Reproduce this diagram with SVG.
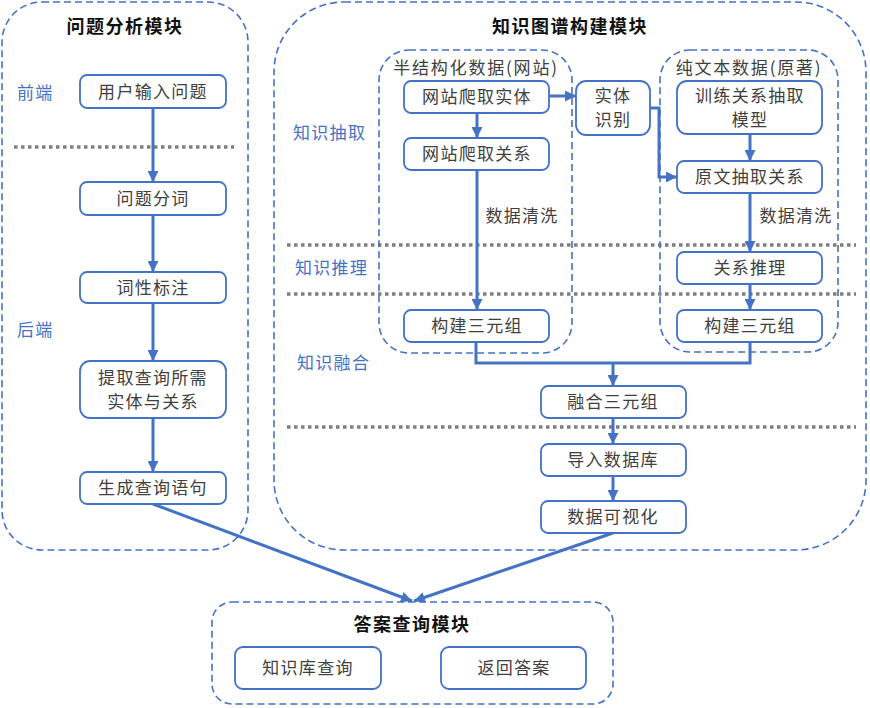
<svg xmlns="http://www.w3.org/2000/svg" width="870" height="708" viewBox="0 0 870 708">
<defs>
<marker id="ah" viewBox="0 0 10 10" refX="10" refY="5" markerWidth="11" markerHeight="11" markerUnits="userSpaceOnUse" orient="auto">
<path d="M0,0 L10,5 L0,10 z" fill="#4472C4"/>
</marker>
</defs>
<style>
.mod{fill:none;stroke:#4472C4;stroke-width:1.6;stroke-dasharray:7 4}
.sep{fill:none;stroke:#7F7F7F;stroke-width:3.5;stroke-dasharray:3.5 3.5}
.box{fill:#fff;stroke:#4472C4;stroke-width:1.8}
.t{font-family:"Noto Sans CJK SC","Noto Sans",sans-serif;font-size:17px;fill:#404040;text-anchor:middle;letter-spacing:1.3px}
.ttl{font-family:"Noto Sans CJK SC","Noto Sans",sans-serif;font-size:18px;font-weight:bold;fill:#111;text-anchor:middle;letter-spacing:1.5px}
.lb{font-family:"Noto Sans CJK SC","Noto Sans",sans-serif;font-size:17px;fill:#4472C4;letter-spacing:1.3px}
.ln{fill:none;stroke:#4472C4;stroke-width:3}
.ar{fill:none;stroke:#4472C4;stroke-width:3;marker-end:url(#ah)}
</style>
<rect width="870" height="708" fill="#fff"/>

<g id="module-question">
<rect class="mod" x="2" y="2" width="246" height="548" rx="40"/>
<text class="ttl" x="125" y="33">问题分析模块</text>
<text class="lb" x="17" y="99">前端</text>
<text class="lb" x="17" y="336">后端</text>
<line class="sep" x1="14" y1="147" x2="234" y2="147"/>
</g>

<g id="module-kg">
<rect class="mod" x="274" y="2" width="592" height="548" rx="70"/>
<text class="ttl" x="570" y="33">知识图谱构建模块</text>
<text class="lb" x="293" y="139">知识抽取</text>
<text class="lb" x="295" y="274">知识推理</text>
<text class="lb" x="297" y="369">知识融合</text>
<line class="sep" x1="287" y1="245" x2="856" y2="245"/>
<line class="sep" x1="287" y1="294" x2="856" y2="294"/>
<line class="sep" x1="287" y1="427" x2="856" y2="427"/>
</g>

<g id="group-semi">
<rect class="mod" x="379" y="50" width="193" height="303" rx="30"/>
<text class="t" x="476" y="74" style="letter-spacing:1.8px">半结构化数据(网站)</text>
</g>
<g id="group-text">
<rect class="mod" x="660" y="50" width="178" height="302" rx="30"/>
<text class="t" x="749" y="74" style="letter-spacing:1.8px">纯文本数据(原著)</text>
</g>

<g id="module-answer">
<rect class="mod" x="212" y="602" width="401" height="102" rx="20"/>
<text class="ttl" x="412" y="631">答案查询模块</text>
</g>

<g id="connectors">
<line class="ar" x1="153" y1="108" x2="153" y2="182"/>
<line class="ar" x1="153" y1="215" x2="153" y2="272"/>
<line class="ar" x1="153" y1="303" x2="153" y2="361"/>
<line class="ar" x1="153" y1="418" x2="153" y2="472"/>
<line class="ar" x1="477" y1="113" x2="477" y2="138"/>
<line class="ar" x1="477" y1="170" x2="477" y2="310"/>
<line class="ar" x1="549" y1="96" x2="576" y2="96"/>
<polyline class="ar" points="650,108 659,108 659,177 677,177"/>
<line class="ar" x1="750" y1="134" x2="750" y2="161"/>
<line class="ar" x1="750" y1="193" x2="750" y2="252"/>
<line class="ar" x1="750" y1="284" x2="750" y2="310"/>
<polyline class="ln" points="476,342 476,363 750,363 750,342"/>
<line class="ar" x1="613" y1="363" x2="613" y2="386"/>
<line class="ar" x1="613" y1="418" x2="613" y2="444"/>
<line class="ar" x1="613" y1="476" x2="613" y2="501"/>
<line class="ar" x1="153" y1="504" x2="412" y2="601"/>
<line class="ar" x1="613" y1="533" x2="414" y2="601"/>
<text class="t" x="522" y="222">数据清洗</text>
<text class="t" x="796" y="222">数据清洗</text>
</g>

<g id="n-input"><rect class="box" x="80" y="75" width="146" height="33" rx="7"/><text class="t" x="153" y="98">用户输入问题</text></g>
<g id="n-seg"><rect class="box" x="80" y="182" width="146" height="33" rx="7"/><text class="t" x="153" y="205">问题分词</text></g>
<g id="n-pos"><rect class="box" x="80" y="272" width="146" height="31" rx="7"/><text class="t" x="153" y="294">词性标注</text></g>
<g id="n-extract"><rect class="box" x="80" y="361" width="146" height="57" rx="10"/><text class="t" x="153" y="384">提取查询所需</text><text class="t" x="153" y="408">实体与关系</text></g>
<g id="n-gen"><rect class="box" x="80" y="472" width="146" height="32" rx="7"/><text class="t" x="153" y="494">生成查询语句</text></g>

<g id="n-crawl-ent"><rect class="box" x="404" y="81" width="145" height="32" rx="7"/><text class="t" x="477" y="103">网站爬取实体</text></g>
<g id="n-crawl-rel"><rect class="box" x="404" y="138" width="145" height="32" rx="7"/><text class="t" x="477" y="160">网站爬取关系</text></g>
<g id="n-triple-l"><rect class="box" x="404" y="310" width="145" height="32" rx="7"/><text class="t" x="477" y="332">构建三元组</text></g>
<g id="n-ner"><rect class="box" x="576" y="81" width="74" height="54" rx="10"/><text class="t" x="613" y="102">实体</text><text class="t" x="613" y="126">识别</text></g>
<g id="n-train"><rect class="box" x="677" y="81" width="145" height="53" rx="10"/><text class="t" x="750" y="102">训练关系抽取</text><text class="t" x="750" y="126">模型</text></g>
<g id="n-text-rel"><rect class="box" x="677" y="161" width="145" height="32" rx="7"/><text class="t" x="750" y="183">原文抽取关系</text></g>
<g id="n-infer"><rect class="box" x="677" y="252" width="145" height="32" rx="7"/><text class="t" x="750" y="274">关系推理</text></g>
<g id="n-triple-r"><rect class="box" x="677" y="310" width="145" height="32" rx="7"/><text class="t" x="750" y="332">构建三元组</text></g>
<g id="n-fuse"><rect class="box" x="541" y="386" width="145" height="32" rx="7"/><text class="t" x="613" y="408">融合三元组</text></g>
<g id="n-db"><rect class="box" x="541" y="444" width="145" height="32" rx="7"/><text class="t" x="613" y="466">导入数据库</text></g>
<g id="n-vis"><rect class="box" x="541" y="501" width="145" height="32" rx="7"/><text class="t" x="613" y="523">数据可视化</text></g>

<g id="n-kbq"><rect class="box" x="235" y="647" width="146" height="42" rx="8"/><text class="t" x="308" y="674">知识库查询</text></g>
<g id="n-ret"><rect class="box" x="441" y="647" width="145" height="42" rx="8"/><text class="t" x="514" y="674">返回答案</text></g>
</svg>
